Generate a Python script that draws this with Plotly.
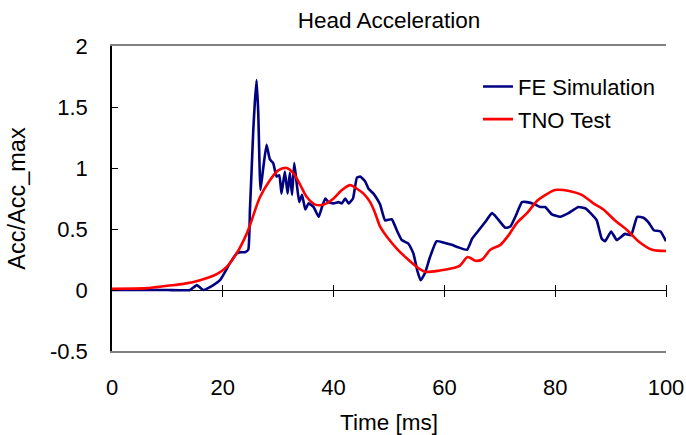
import plotly.graph_objects as go

# FE simulation: normalised head acceleration vs time
t_fe = [0, 5, 10, 14.1, 15.3, 16.5, 18.3, 19.5, 21.3, 22.5, 23.2, 24.0, 24.6, 24.9,
        25.2, 25.5, 25.8, 26.1, 26.4, 26.8, 27.3, 27.9, 28.5, 29.1, 29.7, 30.2, 30.6,
        31.2, 31.7, 32.1, 32.5, 32.9, 33.4, 33.8, 34.3, 34.9, 35.5, 36.4, 37.3, 37.9,
        38.5, 39.1, 40.0, 40.9, 41.5, 42.1, 42.7, 43.5, 44.2, 44.8, 45.7, 46.3, 47.2,
        47.8, 48.4, 49.3, 50.5, 51.4, 52.3, 53.5, 54.4, 55.1, 55.7, 56.5, 57.4, 58.6,
        59.8, 61.3, 62.5, 64.1, 65.0, 66.2, 67.4, 68.6, 69.5, 71.0, 71.9, 72.8, 74.0,
        74.9, 76.4, 77.3, 78.2, 79.4, 80.9, 82.4, 84.2, 85.4, 86.6, 87.5, 88.4, 89.0,
        90.1, 91.1, 92.6, 93.7, 94.8, 96.0, 96.9, 97.8, 99.0, 100]
acc_fe = [0.0, 0.0, 0.0, 0.0, 0.04, 0.0, 0.04, 0.08, 0.22, 0.30, 0.31, 0.31, 0.33, 0.66,
          0.98, 1.31, 1.55, 1.72, 1.45, 0.82, 1.0, 1.19, 1.07, 1.04, 0.93, 0.94, 0.79,
          0.97, 0.79, 0.96, 0.78, 1.04, 0.85, 0.72, 0.78, 0.66, 0.71, 0.68, 0.60, 0.68,
          0.75, 0.72, 0.71, 0.72, 0.71, 0.75, 0.71, 0.75, 0.92, 0.93, 0.89, 0.83, 0.79,
          0.75, 0.70, 0.57, 0.58, 0.49, 0.41, 0.38, 0.30, 0.16, 0.08, 0.14, 0.27, 0.40,
          0.39, 0.37, 0.35, 0.33, 0.42, 0.49, 0.56, 0.63, 0.59, 0.51, 0.52, 0.60, 0.72,
          0.72, 0.70, 0.68, 0.68, 0.62, 0.60, 0.63, 0.68, 0.67, 0.62, 0.57, 0.42, 0.40,
          0.48, 0.41, 0.46, 0.45, 0.60, 0.59, 0.55, 0.49, 0.48, 0.40]

# TNO test: normalised head acceleration vs time
t_tno = [0, 6.3, 10, 12.9, 15.9, 18.9, 20.7, 22.5, 24.3, 25.2, 26.7, 28.5, 30.0, 31.5,
         32.7, 34.0, 35.2, 36.7, 38.2, 40.0, 41.5, 43.0, 44.2, 45.4, 46.6, 47.5, 48.4,
         49.9, 51.4, 53.2, 55.0, 56.5, 59.2, 61.6, 62.8, 64.2, 65.6, 66.8, 68.3, 70.1,
         71.6, 73.1, 74.9, 76.7, 77.9, 80.0, 82.7, 84.8, 86.9, 88.7, 90.8, 93.0, 95.0,
         97.5, 100]
acc_tno = [0.01, 0.015, 0.035, 0.05, 0.08, 0.13, 0.19, 0.30, 0.46, 0.57, 0.76, 0.90,
           0.98, 1.00, 0.96, 0.86, 0.76, 0.70, 0.70, 0.75, 0.82, 0.86, 0.83, 0.79, 0.72,
           0.63, 0.52, 0.42, 0.34, 0.26, 0.19, 0.15, 0.16, 0.18, 0.20, 0.27, 0.24, 0.25,
           0.33, 0.37, 0.45, 0.55, 0.63, 0.73, 0.77, 0.82, 0.81, 0.78, 0.71, 0.66, 0.57,
           0.49, 0.40, 0.33, 0.32]

x_ticks = [0, 20, 40, 60, 80, 100]
y_ticks = [-0.5, 0, 0.5, 1, 1.5, 2]
y_tick_text = ["-0.5", "0", "0.5", "1", "1.5", "2"]

X_RANGE = [0, 100]
Y_RANGE = [-0.5, 2]
FONT = "Liberation Sans, Arial, sans-serif"
GRAY = "#808080"

W, H = 686, 435
ML, MR, MT, MB = 112, 20, 46, 84
PW, PH = W - ML - MR, H - MT - MB
TICK_HALF = 6  # crossing tick reaches this many px above and below y = 0

fig = go.Figure()
fig.add_trace(go.Scatter(x=t_fe, y=acc_fe, mode="lines", name="FE Simulation",
                         line=dict(color="#000080", width=2.6, shape="spline",
                                   smoothing=0.4),
                         legend="legend"))
# second series carries the overlaid axis that draws ticks across y = 0
fig.add_trace(go.Scatter(x=t_tno, y=acc_tno, mode="lines", name="TNO Test",
                         line=dict(color="#FF0000", width=2.6, shape="spline",
                                   smoothing=0.8),
                         xaxis="x2", legend="legend2"))

# position of the zero line as a fraction of the plot height
zero_pos = (0 - Y_RANGE[0]) / (Y_RANGE[1] - Y_RANGE[0])

axis_common = dict(range=X_RANGE, showgrid=False, zeroline=False, automargin=False)

fig.update_layout(
    width=W, height=H,
    margin=dict(l=ML, r=MR, t=MT, b=MB, autoexpand=False),
    paper_bgcolor="white", plot_bgcolor="white",
    font=dict(family=FONT, size=22, color="black"),
    title=dict(text="Head Acceleration", x=(ML + PW / 2) / W, xanchor="center",
               y=1 - 20 / H, yanchor="middle", font=dict(size=22.5)),
    xaxis=dict(**axis_common, tickvals=x_ticks, ticks="", showline=True,
               linecolor=GRAY, linewidth=2, mirror=True,
               ticklabelstandoff=16,
               title=dict(text="Time [ms]", standoff=18, font=dict(size=22.5))),
    xaxis2=dict(**axis_common, overlaying="x", anchor="free",
                position=zero_pos + TICK_HALF / PH,
                tickvals=x_ticks[1:], ticks="outside", ticklen=2 * TICK_HALF,
                tickcolor="black", tickwidth=1,
                showline=False, showticklabels=False),
    yaxis=dict(range=Y_RANGE, tickvals=y_ticks, ticktext=y_tick_text,
               ticks="inside", ticklen=6, tickcolor="black",
               showline=True, linecolor="black", linewidth=1.5,
               showgrid=False, zeroline=True, zerolinecolor="black",
               zerolinewidth=1.2, ticklabelstandoff=18, automargin=False,
               title=dict(text="Acc/Acc_max", standoff=18, font=dict(size=23.5))),
    yaxis2=dict(range=Y_RANGE, overlaying="y", side="right", showline=True,
                linecolor=GRAY, linewidth=2, showticklabels=False, ticks="",
                showgrid=False, zeroline=False, automargin=False),
    legend=dict(x=(478 - ML) / PW, y=(H - MB - 86.7) / PH, xanchor="left",
                yanchor="middle", bgcolor="rgba(0,0,0,0)", font=dict(size=22)),
    legend2=dict(x=(478 - ML) / PW, y=(H - MB - 119.3) / PH, xanchor="left",
                 yanchor="middle", bgcolor="rgba(0,0,0,0)", font=dict(size=22)),
    showlegend=True,
)

fig.write_html("out.html")
